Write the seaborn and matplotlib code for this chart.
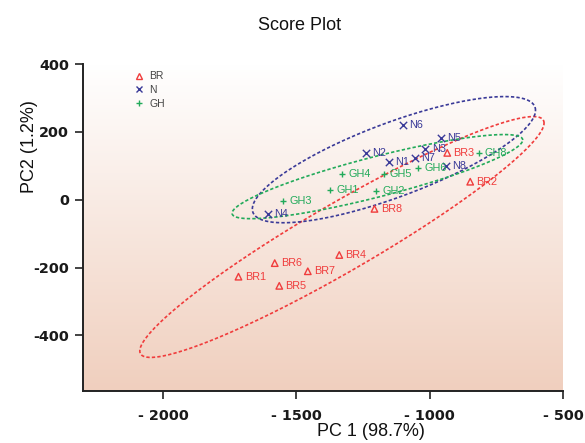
import numpy as np
import pandas as pd
import matplotlib
matplotlib.use("Agg")
import matplotlib.pyplot as plt
import seaborn as sns
from matplotlib.lines import Line2D
from matplotlib.ticker import FuncFormatter

# ---- data ----
br_names = ['BR1', 'BR2', 'BR3', 'BR4', 'BR5', 'BR6', 'BR7', 'BR8']
br_x = [-1717, -848, -934, -1339, -1564, -1581, -1457, -1207]
br_y = [-227, 53, 138, -163, -254, -187, -211, -27]

n_names = ['N1', 'N2', 'N3', 'N4', 'N5', 'N6', 'N7', 'N8']
n_x = [-1154, -1238, -1016, -1605, -958, -1100, -1055, -939]
n_y = [110, 138, 150, -42, 182, 219, 123, 100]

gh_names = ['GH1', 'GH2', 'GH3', 'GH4', 'GH5', 'GH6', 'GH8']
gh_x = [-1372, -1202, -1550, -1329, -1173, -1044, -816]
gh_y = [29, 27, -3, 76, 76, 93, 137]

# confidence ellipses: centre, half-extent in x / y, correlation
ell_groups = ['BR', 'N', 'GH']
ell_cx = [-1329, -1134, -1196]
ell_cy = [-110, 118, 68]
ell_rx = [758, 531, 545]
ell_ry = [355, 186, 124]
ell_rho = [0.946, 0.782, 0.87]

x_ticks = [-2000, -1500, -1000, -500]
y_ticks = [-400, -200, 0, 200, 400]

colors = {'BR': '#f03c3c', 'N': '#3a3a98', 'GH': '#22aa5a'}
markers = {'BR': '^', 'N': 'x', 'GH': '+'}

sns.set_style('ticks')
plt.rcParams['font.family'] = ['Liberation Sans', 'DejaVu Sans']

fig = plt.figure(figsize=(5.85, 4.43), dpi=100)
ax = fig.add_axes([83/585, 52/443, 480/585, 327/443])

# gradient background
grad = np.linspace(0, 1, 256).reshape(-1, 1)
top = np.array([1.0, 1.0, 1.0])
bot = np.array([240, 207, 190]) / 255.0
img = top[None, None, :] * (1 - grad[..., None]) + bot[None, None, :] * grad[..., None]
ax.imshow(img, extent=[0, 1, 0, 1], transform=ax.transAxes, aspect='auto',
          origin='upper', zorder=0)

groups = [('BR', br_names, br_x, br_y), ('N', n_names, n_x, n_y), ('GH', gh_names, gh_x, gh_y)]
for g, names, xs, ys in groups:
    df = pd.DataFrame({'x': xs, 'y': ys, 'name': names})
    c = colors[g]
    if g == 'BR':
        sns.scatterplot(data=df, x='x', y='y', ax=ax, marker='^', s=22,
                        facecolors='none', edgecolor=c, linewidth=1.0, zorder=3)
    else:
        sns.scatterplot(data=df, x='x', y='y', ax=ax, marker=markers[g], s=28 if g == 'N' else 18,
                        color=c, linewidth=1.0, zorder=3)
    for nm, xv, yv in zip(names, xs, ys):
        ax.annotate(nm, (xv, yv), xytext=(4.5, 0), textcoords='offset points',
                    ha='left', va='center', fontsize=7.8, color=c, zorder=4)

t = np.linspace(0, 2 * np.pi, 400)
for g, cx, cy, rx, ry, rho in zip(ell_groups, ell_cx, ell_cy, ell_rx, ell_ry, ell_rho):
    ex = cx + rx * np.cos(t)
    ey = cy + ry * (rho * np.cos(t) + np.sqrt(1 - rho ** 2) * np.sin(t))
    ax.plot(ex, ey, color=colors[g], lw=1.2, ls=(0, (2, 1.3)), zorder=2)

ax.set_xlim(-2300, -500)
ax.set_ylim(-564, 400)
ax.set_xticks(x_ticks)
ax.set_yticks(y_ticks)
ax.xaxis.set_major_formatter(FuncFormatter(lambda v, p: f"- {abs(int(v))}" if v < 0 else f"{int(v)}"))
ax.yaxis.set_major_formatter(FuncFormatter(lambda v, p: f"{int(v)}"))
ax.tick_params(axis='both', length=6, width=1.2, color='#222222')
ax.tick_params(axis='x', pad=7)
ax.tick_params(axis='y', pad=4)
for lab in ax.get_xticklabels() + ax.get_yticklabels():
    lab.set_fontfamily('DejaVu Sans')
    lab.set_fontweight('bold')
    lab.set_fontsize(10.4)
    lab.set_color('#1a1a1a')
for side in ['top', 'right']:
    ax.spines[side].set_visible(False)
for side in ['left', 'bottom']:
    ax.spines[side].set_linewidth(1.4)
    ax.spines[side].set_color('#222222')

ax.set_xlabel('PC 1 (98.7%)', fontsize=13, color='#111111')
ax.xaxis.set_label_coords((371 - 83) / 480, -(431 - 391) / 327)
ax.xaxis.label.set_va('center')
ax.set_ylabel('PC2 (1.2%)', fontsize=13, color='#111111')
ax.yaxis.set_label_coords(-(83 - 29) / 480, (391 - 147) / 327)
ax.yaxis.label.set_va('center')
fig.text(300/585, 1 - 26/443, 'Score Plot', ha='center', va='center', fontsize=13, color='#111111')

handles = [
    Line2D([], [], ls='none', marker='^', markersize=4.5, mfc='none', mec=colors['BR'], mew=1.0),
    Line2D([], [], ls='none', marker='x', markersize=5, color=colors['N'], mew=1.0),
    Line2D([], [], ls='none', marker='+', markersize=4, color=colors['GH'], mew=1.0),
]
leg = ax.legend(handles, ['BR', 'N', 'GH'], loc='upper left', bbox_to_anchor=(0.09, 1.0),
                frameon=False, fontsize=7.5, handlelength=1.0, handletextpad=0.5,
                labelspacing=0.35, borderpad=0.2)
for txt in leg.get_texts():
    txt.set_color('#444444')

fig.savefig('out.png', dpi=100)
